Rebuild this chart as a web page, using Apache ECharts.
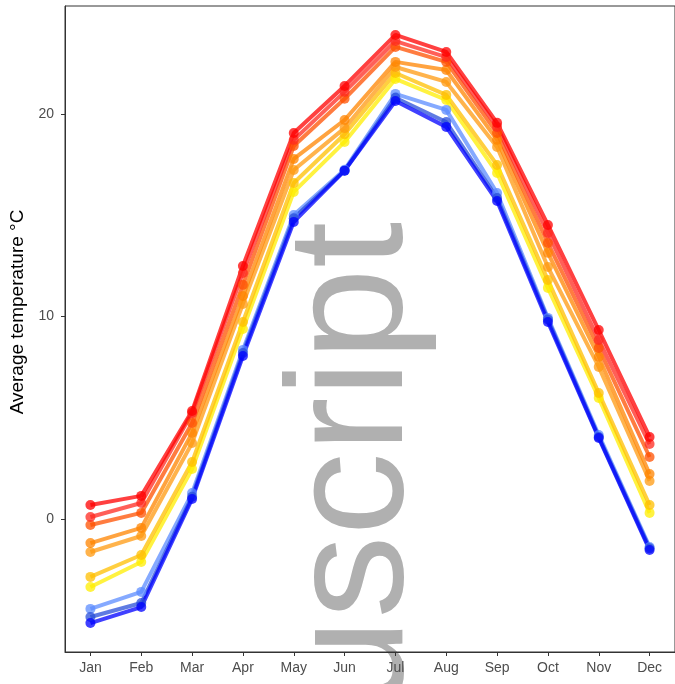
<!DOCTYPE html>
<html>
<head>
<meta charset="utf-8">
<script src="https://cdn.jsdelivr.net/npm/echarts@6/dist/echarts.min.js"></script>
<style>html,body{margin:0;padding:0;background:#fff;}#c{width:675px;height:684px;}</style>
</head>
<body>
<div id="c"></div>
<script>
const months = ['Jan','Feb','Mar','Apr','May','Jun','Jul','Aug','Sep','Oct','Nov','Dec'];
const yTicks = [0, 10, 20];
const yAxisTitle = 'Average temperature °C';
const watermark = 'Manuscript';

const s1 = [-5.14, -4.35, 0.99, 8.05, 14.67, 17.20, 20.64, 19.36, 15.70, 9.73, 4.00, -1.53];
const s2 = [-4.84, -4.15, 1.10, 8.20, 14.85, 17.20, 20.80, 19.60, 15.85, 9.85, 4.05, -1.45];
const s3 = [-4.44, -3.60, 1.28, 8.35, 15.01, 17.25, 20.99, 20.20, 16.10, 9.93, 4.15, -1.38];
const s4 = [-3.36, -2.12, 2.47, 9.38, 16.15, 18.62, 21.73, 20.69, 17.09, 11.41, 5.98, 0.30];
const s5 = [-2.86, -1.78, 2.81, 9.73, 16.59, 19.00, 22.02, 20.94, 17.48, 11.80, 6.22, 0.69];
const s6 = [-1.63, -0.84, 3.75, 10.62, 17.23, 19.30, 22.32, 21.58, 18.37, 12.44, 7.51, 1.88];
const s7 = [-1.19, -0.44, 4.25, 11.01, 17.78, 19.70, 22.57, 22.17, 18.72, 13.14, 8.00, 2.22];
const s8 = [-0.30, 0.30, 4.74, 11.56, 18.42, 20.75, 23.31, 22.57, 19.06, 13.63, 8.44, 3.06];
const s9 = [0.10, 0.79, 5.23, 12.15, 18.72, 21.09, 23.60, 22.81, 19.36, 14.12, 8.84, 3.70];
const s10 = [0.69, 1.14, 5.33, 12.49, 19.06, 21.38, 23.90, 23.06, 19.56, 14.52, 9.33, 4.05];

const seriesDefs = [
  {name: 'S4', values: s4, color: '#ffee00'},
  {name: 'S5', values: s5, color: '#ffbf00'},
  {name: 'S6', values: s6, color: '#ff9a10'},
  {name: 'S7', values: s7, color: '#ff8400'},
  {name: 'S8', values: s8, color: '#ff5000'},
  {name: 'S9', values: s9, color: '#ff2a20'},
  {name: 'S10', values: s10, color: '#ff0000'},
  {name: 'S3', values: s3, color: '#5c8cff'},
  {name: 'S2', values: s2, color: '#2a4fd8'},
  {name: 'S1', values: s1, color: '#0000ff'}
];

const FONT = '"Liberation Sans", Arial, sans-serif';
const chart = echarts.init(document.getElementById('c'), null, {renderer: 'canvas'});
chart.setOption({
  animation: false,
  backgroundColor: '#ffffff',
  grid: {left: 65, top: 6, width: 612, height: 646, show: true, borderColor: '#333333', borderWidth: 1, backgroundColor: 'transparent'},
  graphic: [{
    type: 'text', x: 439, y: 222, rotation: Math.PI / 2, z: -10, silent: true,
    style: {text: watermark, fill: '#b0b0b0', fontSize: 166, fontFamily: FONT, align: 'right', verticalAlign: 'bottom'}
  }],
  xAxis: {
    type: 'category', data: months, boundaryGap: true,
    axisLine: {show: true, onZero: false, lineStyle: {color: '#333333', width: 1}},
    axisTick: {show: true, alignWithLabel: true, length: 4, lineStyle: {color: '#333333'}},
    axisLabel: {color: '#4d4d4d', fontSize: 14, margin: 9, fontFamily: FONT},
    splitLine: {show: false}
  },
  yAxis: {
    type: 'value', min: -6.568, max: 25.33,
    name: yAxisTitle, nameLocation: 'middle', nameGap: 24,
    nameTextStyle: {color: '#000000', fontSize: 19, fontFamily: FONT, padding: [0, 0, 0, 34]},
    axisLine: {show: true, lineStyle: {color: '#333333', width: 1}},
    axisTick: {show: true, length: 4, customValues: yTicks, lineStyle: {color: '#333333'}},
    axisLabel: {color: '#4d4d4d', fontSize: 14, margin: 11, fontFamily: FONT, customValues: yTicks},
    splitLine: {show: false}
  },
  series: seriesDefs.map(d => ({
    name: d.name, type: 'line', data: d.values,
    symbol: 'circle', symbolSize: 10, showSymbol: true,
    lineStyle: {color: d.color, width: 4, opacity: 0.75},
    itemStyle: {color: d.color, opacity: 0.75},
    emphasis: {disabled: true}
  }))
});
</script>
</body>
</html>
